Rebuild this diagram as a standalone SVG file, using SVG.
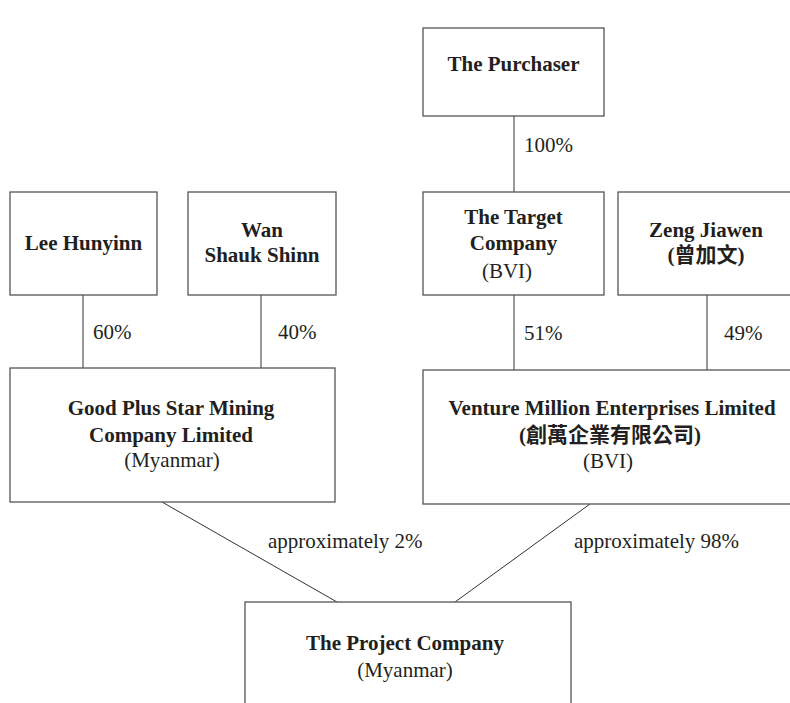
<svg xmlns="http://www.w3.org/2000/svg" width="790" height="703" viewBox="0 0 790 703">
<style>
.box{fill:#fff;stroke:#555;stroke-width:1.3}
.ln{stroke:#333;stroke-width:1;fill:none}
text{font-family:"Liberation Serif","Noto Sans CJK TC",serif;font-size:21px;fill:#231f20}
.b{font-weight:bold}
.m{text-anchor:middle}
</style>
<rect width="790" height="703" fill="#fff"/>
<g id="connectors">
<line class="ln" x1="514" y1="116" x2="514" y2="192"/>
<line class="ln" x1="83" y1="295" x2="83" y2="368"/>
<line class="ln" x1="261" y1="295" x2="261" y2="368"/>
<line class="ln" x1="514" y1="295" x2="514" y2="370"/>
<line class="ln" x1="707" y1="295" x2="707" y2="370"/>
<line class="ln" x1="162" y1="502" x2="337" y2="602"/>
<line class="ln" x1="590" y1="504" x2="455" y2="602"/>
<text x="524" y="152">100%</text>
<text x="93" y="339">60%</text>
<text x="278" y="339">40%</text>
<text x="524" y="340">51%</text>
<text x="724" y="340">49%</text>
<text x="268" y="548">approximately 2%</text>
<text x="574" y="548">approximately 98%</text>
</g>
<g id="purchaser">
<rect class="box" x="423" y="28" width="181" height="88"/>
<text class="b m" x="513.5" y="71">The Purchaser</text>
</g>
<g id="lee">
<rect class="box" x="10" y="192" width="147" height="103"/>
<text class="b m" x="83.5" y="250">Lee Hunyinn</text>
</g>
<g id="wan">
<rect class="box" x="188" y="192" width="148" height="103"/>
<text class="b m" x="262" y="237">Wan</text>
<text class="b m" x="262" y="262">Shauk Shinn</text>
</g>
<g id="target">
<rect class="box" x="423" y="192" width="181" height="103"/>
<text class="b m" x="513.5" y="224">The Target</text>
<text class="b m" x="513.5" y="250">Company</text>
<text class="m" x="507" y="278">(BVI)</text>
</g>
<g id="zeng">
<rect class="box" x="618" y="192" width="190" height="103"/>
<text class="b m" x="706" y="237">Zeng Jiawen</text>
<text class="b m" x="706" y="262">(曾加文)</text>
</g>
<g id="goodplus">
<rect class="box" x="10" y="368" width="325" height="134"/>
<text class="b m" x="171" y="415">Good Plus Star Mining</text>
<text class="b m" x="171" y="442">Company Limited</text>
<text class="m" x="172" y="467">(Myanmar)</text>
</g>
<g id="venture">
<rect class="box" x="423" y="370" width="385" height="134"/>
<text class="b m" x="612" y="415">Venture Million Enterprises Limited</text>
<text class="b m" x="610" y="442">(創萬企業有限公司)</text>
<text class="m" x="608" y="468">(BVI)</text>
</g>
<g id="project">
<rect class="box" x="245" y="602" width="326" height="120"/>
<text class="b m" x="405" y="650">The Project Company</text>
<text class="m" x="405" y="677">(Myanmar)</text>
</g>
</svg>
